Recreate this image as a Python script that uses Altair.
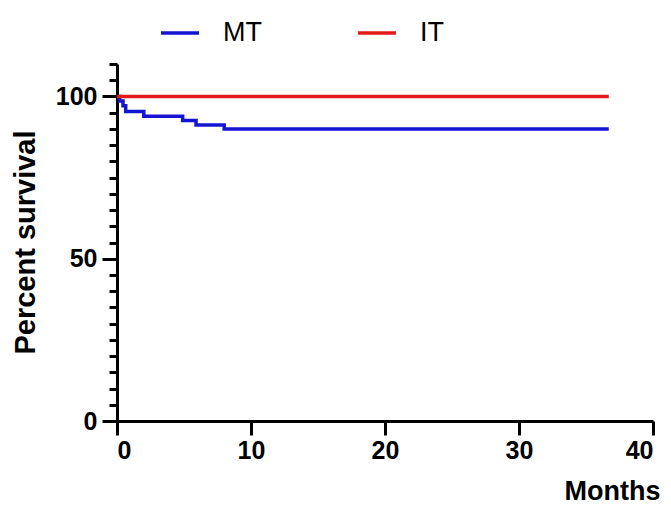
import altair as alt
import pandas as pd

# Kaplan-Meier steps (months, percent survival)
mt_time = [0, 0.2, 0.45, 0.65, 2.0, 4.9, 5.9, 8.0, 36.7]
mt_surv = [100, 98.6, 97.1, 95.4, 93.9, 92.6, 91.2, 90.0, 90.0]
it_time = [0, 36.7]
it_surv = [100, 100]

groups = ["MT", "IT"]
colors = ["#1414d2", "#e21a1a"]

y_ticks = list(range(0, 111, 5))
x_ticks = [0, 10, 20, 30, 40]

df = pd.concat([
    pd.DataFrame({"Months": mt_time, "Survival": mt_surv, "Group": "MT"}),
    pd.DataFrame({"Months": it_time, "Survival": it_surv, "Group": "IT"}),
])

FONT = "Liberation Sans"

chart = alt.Chart(df).mark_line(interpolate="step-after", strokeWidth=3.5).encode(
    x=alt.X("Months:Q",
            scale=alt.Scale(domain=[0, 40], nice=False, zero=False),
            axis=alt.Axis(values=x_ticks, title="Months", titleAnchor="end",
                          titleAlign="right", titleBaseline="alphabetic",
                          titleX=543, titleY=78, titleFontSize=27,
                          tickSize=14, tickWidth=3, domainWidth=3,
                          labelPadding=3, grid=False)),
    y=alt.Y("Survival:Q",
            scale=alt.Scale(domain=[0, 110], nice=False),
            axis=alt.Axis(values=y_ticks, title="Percent survival",
                          labelExpr="datum.value % 50 === 0 ? datum.label : ''",
                          tickSize={"condition": {"test": "datum.value % 50 === 0", "value": 15}, "value": 8},
                          tickWidth=3, domainWidth=3, labelPadding=5,
                          titleFontSize=29, titleAlign="center",
                          titleBaseline="alphabetic", titleX=-83, titleY=178,
                          grid=False)),
    color=alt.Color("Group:N", sort=groups,
                    scale=alt.Scale(domain=groups, range=colors),
                    legend=alt.Legend(orient="none", legendX=42, legendY=-52,
                                      direction="horizontal", title=None,
                                      symbolType="stroke", symbolSize=1444,
                                      symbolStrokeWidth=3.5, labelFontSize=27,
                                      labelFont=FONT, labelColor="black",
                                      labelOffset=22, columnPadding=89)),
).properties(
    width=536, height=357,
    autosize=alt.AutoSizeParams(type="none"),
    padding={"left": 109, "top": 56, "right": 10, "bottom": 83},
).configure_axis(
    domainColor="black", tickColor="black",
    labelFont=FONT, labelFontSize=25, labelFontWeight="bold", labelColor="black",
    titleFont=FONT, titleFontWeight="bold", titleColor="black",
).configure_view(stroke=None)

chart.save("out.html", embed_options={"renderer": "svg", "actions": False})
